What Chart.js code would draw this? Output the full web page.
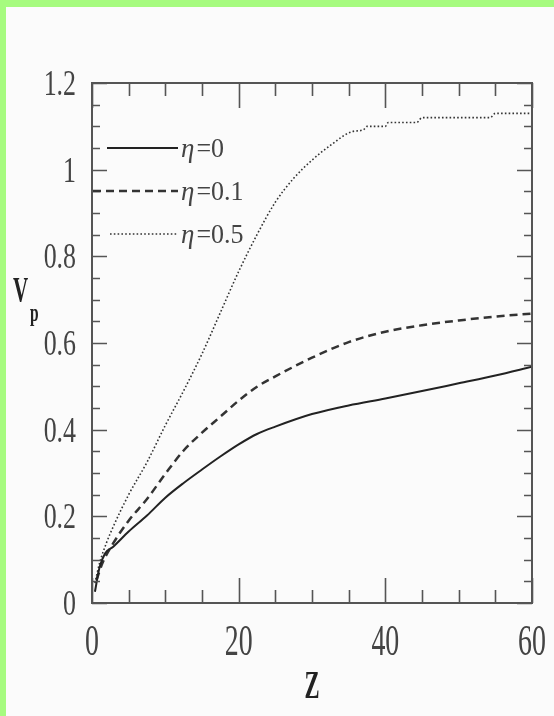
<!DOCTYPE html>
<html><head><meta charset="utf-8">
<script src="https://cdn.jsdelivr.net/npm/chart.js@4/dist/chart.umd.min.js"></script>
<style>html,body{margin:0;padding:0;background:#a6fb7f;}canvas{display:block;}</style>
</head><body>
<canvas id="c" width="554" height="716"></canvas>
<script>
// ---- data ----
const zEta0 = [0.4, 1, 1.8, 2.9, 5, 7.5, 10, 12.5, 15, 17.5, 20, 22.5, 25, 30, 35, 40, 45, 50, 55, 60];
const vEta0 = [0.026, 0.08, 0.115, 0.13, 0.165, 0.202, 0.243, 0.277, 0.308, 0.338, 0.366, 0.39, 0.407, 0.436, 0.456, 0.472, 0.489, 0.507, 0.525, 0.545];

const zEta01 = [0.6, 1.5, 2.9, 5, 7.5, 10, 12.5, 15, 17.5, 20, 22.5, 25, 30, 35, 40, 45, 50, 55, 60];
const vEta01 = [0.053, 0.095, 0.138, 0.19, 0.24, 0.298, 0.352, 0.393, 0.43, 0.467, 0.499, 0.523, 0.566, 0.602, 0.626, 0.641, 0.652, 0.661, 0.668];

const zEta05 = [0.4, 1, 2, 3, 5, 7.5, 10, 12.5, 15, 17.5, 20, 22.5, 25, 27.5, 30, 32.5, 35.5, 37, 37.5, 40, 40.4, 44.3, 45, 54.3, 55, 60];
const vEta05 = [0.046, 0.09, 0.14, 0.18, 0.25, 0.325, 0.41, 0.49, 0.575, 0.67, 0.765, 0.85, 0.925, 0.98, 1.022, 1.056, 1.088, 1.092, 1.1, 1.1, 1.109, 1.109, 1.12, 1.12, 1.13, 1.13];

const seriesLabels = ['\u03b7=0', '\u03b7=0.1', '\u03b7=0.5'];
const xTickLabels = ['0', '20', '40', '60'];
const yTickLabels = ['0', '0.2', '0.4', '0.6', '0.8', '1', '1.2'];
const xTitle = 'Z';
const yTitle = 'V';
const yTitleSub = 'p';

const pts = (zs, vs) => zs.map((z, i) => ({x: z, y: vs[i]}));

const INK = '#444';
const AX = '#555';

function stretchedText(ctx, s, x, y, font, sx, align, color) {
  ctx.save();
  ctx.translate(x, y);
  ctx.scale(sx, 1);
  ctx.font = font;
  ctx.textAlign = align;
  ctx.textBaseline = 'alphabetic';
  ctx.fillStyle = color || INK;
  ctx.fillText(s, 0, 0);
  ctx.restore();
}

const decor = {
  id: 'decor',
  beforeDraw(chart) {
    const ctx = chart.ctx;
    ctx.save();
    ctx.fillStyle = '#a6fb7f';
    ctx.fillRect(0, 0, chart.width, chart.height);
    ctx.fillStyle = '#fbfbfb';
    ctx.fillRect(6, 7, chart.width - 6, chart.height - 7);
    ctx.restore();
  },
  afterDatasetsDraw(chart) {
    const ctx = chart.ctx;
    const a = chart.chartArea;
    const xs = chart.scales.x, ys = chart.scales.y;
    ctx.save();
    ctx.strokeStyle = AX;
    ctx.lineWidth = 2;
    ctx.strokeRect(a.left, a.top, a.right - a.left, a.bottom - a.top);
    ctx.lineWidth = 1.6;
    ctx.beginPath();
    for (let v = xs.min; v <= xs.max + 1e-9; v += 5) {
      const px = Math.round(xs.getPixelForValue(v)) + 0.5;
      const major = Math.abs(v / 20 - Math.round(v / 20)) < 1e-6;
      const L = major ? 25 : 13;
      ctx.moveTo(px, a.bottom); ctx.lineTo(px, a.bottom - L);
      ctx.moveTo(px, a.top); ctx.lineTo(px, a.top + L);
    }
    for (let v = ys.min; v <= ys.max + 1e-9; v += 0.05) {
      const py = Math.round(ys.getPixelForValue(v)) + 0.5;
      const major = Math.abs(v / 0.2 - Math.round(v / 0.2)) < 1e-6;
      const L = major ? 15 : 8;
      ctx.moveTo(a.left, py); ctx.lineTo(a.left + L, py);
      ctx.moveTo(a.right, py); ctx.lineTo(a.right - L, py);
    }
    ctx.stroke();
    ctx.restore();

    xTickLabels.forEach(t => {
      const px = xs.getPixelForValue(parseFloat(t));
      stretchedText(ctx, t, px, a.bottom + 52, '45px "Liberation Serif"', 0.62, 'center');
    });
    yTickLabels.forEach(t => {
      const py = ys.getPixelForValue(parseFloat(t));
      stretchedText(ctx, t, a.left - 16, py + 12, '35px "Liberation Serif"', 0.74, 'right');
    });
    stretchedText(ctx, xTitle, (a.left + a.right) / 2, a.bottom + 95, 'bold 39px "Liberation Serif"', 0.58, 'center', '#222');
    stretchedText(ctx, yTitle, 13, 302, 'bold 35px "Liberation Serif"', 0.6, 'left', '#222');
    stretchedText(ctx, yTitleSub, 30, 321, 'bold 25px "Liberation Serif"', 0.62, 'left', '#222');

    const rows = [148, 191, 234];
    const starts = [107, 93, 110];
    chart.data.datasets.forEach((ds, i) => {
      const y = rows[i];
      ctx.save();
      ctx.strokeStyle = ds.borderColor;
      ctx.lineWidth = ds.borderWidth;
      ctx.setLineDash(ds.borderDash || []);
      ctx.beginPath();
      ctx.moveTo(starts[i], y); ctx.lineTo(178, y);
      ctx.stroke();
      ctx.restore();
      const lab = ds.label;
      ctx.save();
      ctx.fillStyle = INK;
      ctx.textBaseline = 'alphabetic';
      ctx.font = 'italic 27px "Liberation Serif"';
      const g = lab.charAt(0);
      ctx.fillText(g, 181, y + 9);
      const w = ctx.measureText(g).width;
      ctx.font = '26px "Liberation Serif"';
      ctx.translate(181 + w + 2, y + 9);
      ctx.scale(1.0, 1.05);
      ctx.fillText(lab.slice(1), 0, 0);
      ctx.restore();
    });
  }
};

new Chart(document.getElementById('c'), {
  type: 'line',
  data: {
    datasets: [
      {label: seriesLabels[0], data: pts(zEta0, vEta0), borderColor: '#222', borderWidth: 2, borderDash: [], pointRadius: 0, cubicInterpolationMode: 'monotone', fill: false},
      {label: seriesLabels[1], data: pts(zEta01, vEta01), borderColor: '#333', borderWidth: 2.5, borderDash: [8, 5], pointRadius: 0, cubicInterpolationMode: 'monotone', fill: false},
      {label: seriesLabels[2], data: pts(zEta05, vEta05), borderColor: '#333', borderWidth: 1.6, borderDash: [1.6, 2.2], pointRadius: 0, cubicInterpolationMode: 'monotone', fill: false}
    ]
  },
  options: {
    responsive: false,
    devicePixelRatio: 1,
    animation: false,
    layout: {padding: {left: 92, top: 83, right: 22, bottom: 113}},
    scales: {
      x: {type: 'linear', min: 0, max: 60, display: false},
      y: {type: 'linear', min: 0, max: 1.2, display: false}
    },
    plugins: {legend: {display: false}, tooltip: {enabled: false}}
  },
  plugins: [decor]
});
</script>
</body></html>
